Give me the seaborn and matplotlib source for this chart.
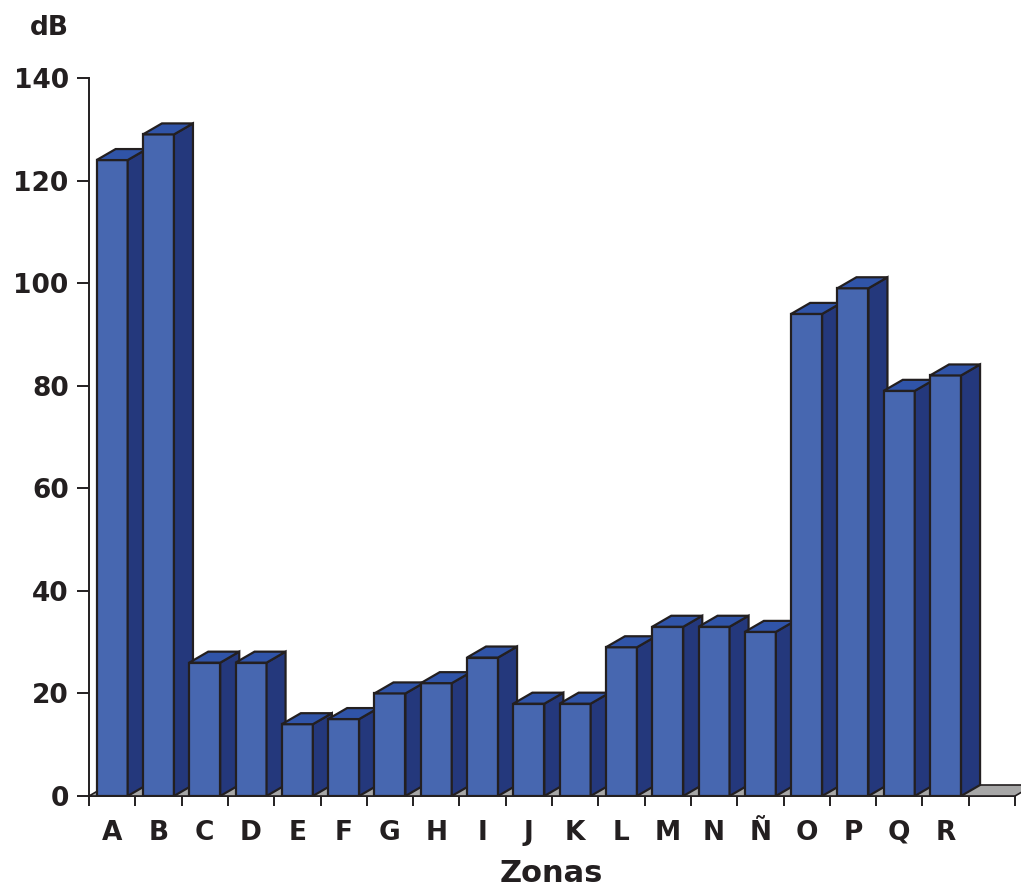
import matplotlib
matplotlib.use("Agg")
import matplotlib.pyplot as plt
from matplotlib.patches import Polygon
from matplotlib.ticker import FixedLocator
import seaborn as sns

# Noise levels per zone
zonas = ["A", "B", "C", "D", "E", "F", "G", "H", "I", "J",
         "K", "L", "M", "N", "Ñ", "O", "P", "Q", "R"]
db = [124, 129, 26, 26, 14, 15, 20, 22, 27, 18,
      18, 29, 33, 33, 32, 94, 99, 79, 82]
y_ticks = [0, 20, 40, 60, 80, 100, 120, 140]

FRONT = "#4767B0"
SIDE = "#24387C"
TOP = "#3054A8"
FLOOR = "#A7A7A7"
EDGE = "#231F20"
TEXT = "#231F20"

sns.set_style("white")
plt.rcParams["font.family"] = ["DejaVu Sans"]
plt.rcParams["font.weight"] = "bold"

W, H = 1021, 889
fig = plt.figure(figsize=(W / 100, H / 100), dpi=100)
ax = fig.add_axes([89 / W, 93 / H, 926 / W, 718 / H])

n_slots = len(zonas) + 1
sns.barplot(x=zonas, y=db, order=zonas, width=0.67, color=FRONT,
            saturation=1, edgecolor=EDGE, linewidth=1.6, ax=ax)

ax.set_xlim(-0.5, n_slots - 0.5)
ax.set_ylim(0, 140)

# depth of the extruded bars, given in pixels and converted to data units
depth_px_x, depth_px_y = 19, 11
dx = depth_px_x * n_slots / 926
dy = depth_px_y * 140 / 718

# floor plane
floor = Polygon([(-0.5, 0), (n_slots - 0.5, 0),
                 (n_slots - 0.5 + dx, dy), (-0.5 + dx, dy)],
                closed=True, facecolor=FLOOR, edgecolor=EDGE,
                linewidth=1.2, zorder=2, clip_on=False, joinstyle="miter")
ax.add_patch(floor)

bars = [p for p in ax.patches if p is not floor]
for i, p in enumerate(bars):
    x0, w, h = p.get_x(), p.get_width(), p.get_height()
    base = 10 + 3 * i
    p.set_zorder(base)
    p.set_joinstyle("miter")
    side = Polygon([(x0 + w, 0), (x0 + w + dx, dy), (x0 + w + dx, h + dy), (x0 + w, h)],
                   closed=True, facecolor=SIDE, edgecolor=EDGE, linewidth=1.6,
                   zorder=base + 1, joinstyle="miter")
    top = Polygon([(x0, h), (x0 + w, h), (x0 + w + dx, h + dy), (x0 + dx, h + dy)],
                  closed=True, facecolor=TOP, edgecolor=EDGE, linewidth=1.6,
                  zorder=base + 2, joinstyle="miter")
    ax.add_patch(side)
    ax.add_patch(top)

# axes styling
for s in ["top", "right"]:
    ax.spines[s].set_visible(False)
for s in ["left", "bottom"]:
    ax.spines[s].set_color(EDGE)
    ax.spines[s].set_linewidth(1.4)
ax.spines["bottom"].set_zorder(1)

ax.yaxis.set_major_locator(FixedLocator(y_ticks))
ax.set_yticklabels([str(v) for v in y_ticks])
ax.tick_params(axis="y", which="major", direction="out", length=8.6, width=1.4,
               color=EDGE, pad=6, labelsize=19, labelcolor=TEXT, left=True)

ax.xaxis.set_major_locator(FixedLocator(range(len(zonas))))
ax.set_xticklabels(zonas)
ax.xaxis.set_minor_locator(FixedLocator([k - 0.5 for k in range(n_slots + 1)]))
ax.tick_params(axis="x", which="major", length=0, pad=17, labelsize=19,
               labelcolor=TEXT)
ax.tick_params(axis="x", which="minor", direction="out", length=7.2, width=1.4,
               color=EDGE, bottom=True)
for lbl in ax.get_xticklabels() + ax.get_yticklabels():
    lbl.set_fontweight("bold")

ax.set_xlabel("")
ax.set_ylabel("")
fig.text(551 / W, 1 - 874 / H, "Zonas", ha="center", va="center",
         fontsize=22, fontweight="bold", color=TEXT)
fig.text(49 / W, 1 - 28 / H, "dB", ha="center", va="center",
         fontsize=19, fontweight="bold", color=TEXT)

fig.savefig("out.png", dpi=100)
